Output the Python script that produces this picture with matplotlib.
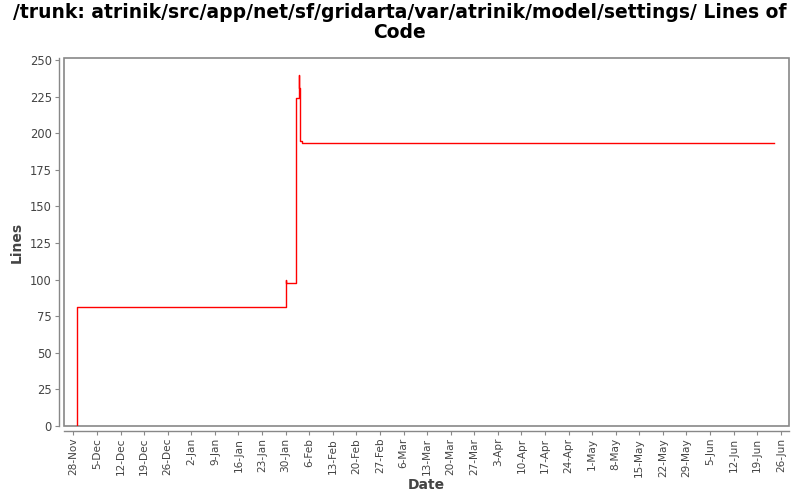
import datetime as dt
import matplotlib
matplotlib.use('Agg')
import matplotlib.pyplot as plt
import matplotlib.dates as mdates

# step data (date, lines of code)
dates = [
    dt.datetime(2010, 11, 29, 0), dt.datetime(2010, 11, 29, 1),
    dt.datetime(2011, 1, 30, 0), dt.datetime(2011, 1, 30, 6),
    dt.datetime(2011, 2, 2, 0),
    dt.datetime(2011, 2, 3, 0), dt.datetime(2011, 2, 3, 1),
    dt.datetime(2011, 2, 3, 9), dt.datetime(2011, 2, 4, 0),
    dt.datetime(2011, 6, 24, 0),
]
lines = [0, 81, 100, 98, 224, 240, 231, 195, 193, 193]

tick_start = dt.datetime(2010, 11, 28)
tick_dates = [tick_start + dt.timedelta(days=7 * i) for i in range(31)]
y_ticks = [0, 25, 50, 75, 100, 125, 150, 175, 200, 225, 250]

fig = plt.figure(figsize=(8, 5), dpi=100)
ax = fig.add_axes([0.0795, 0.148, 0.907, 0.736])

ax.step(dates, lines, where='post', color='red', linewidth=1)

ax.set_xlim(dt.datetime(2010, 11, 25, 2), dt.datetime(2011, 6, 28, 12))
ax.set_ylim(0, 251.4)
ax.set_xticks(tick_dates)
ax.xaxis.set_major_formatter(mdates.DateFormatter('%-d-%b'))
ax.set_yticks(y_ticks)

ax.tick_params(axis='x', labelrotation=90, labelsize=7.6)
ax.tick_params(axis='y', labelsize=8.3)
ax.tick_params(axis='both', colors='#444444', length=3, width=0.8, pad=2)
ax.tick_params(axis='both', color='#888888')

ax.patch.set_edgecolor('#888888')
ax.patch.set_linewidth(1.2)
for side in ['top', 'right']:
    ax.spines[side].set_visible(False)
for side in ['left', 'bottom']:
    ax.spines[side].set_position(('outward', 3.5))
    ax.spines[side].set_color('#888888')
    ax.spines[side].set_linewidth(1)

ax.set_xlabel('Date', fontsize=10, fontweight='bold', color='#444444', labelpad=1)
ax.set_ylabel('Lines', fontsize=10, fontweight='bold', color='#444444', labelpad=4)

fig.suptitle('/trunk: atrinik/src/app/net/sf/gridarta/var/atrinik/model/settings/ Lines of\nCode',
             fontsize=13.5, fontweight='bold', y=0.995, linespacing=1.1)

fig.savefig('out.png', dpi=100)
